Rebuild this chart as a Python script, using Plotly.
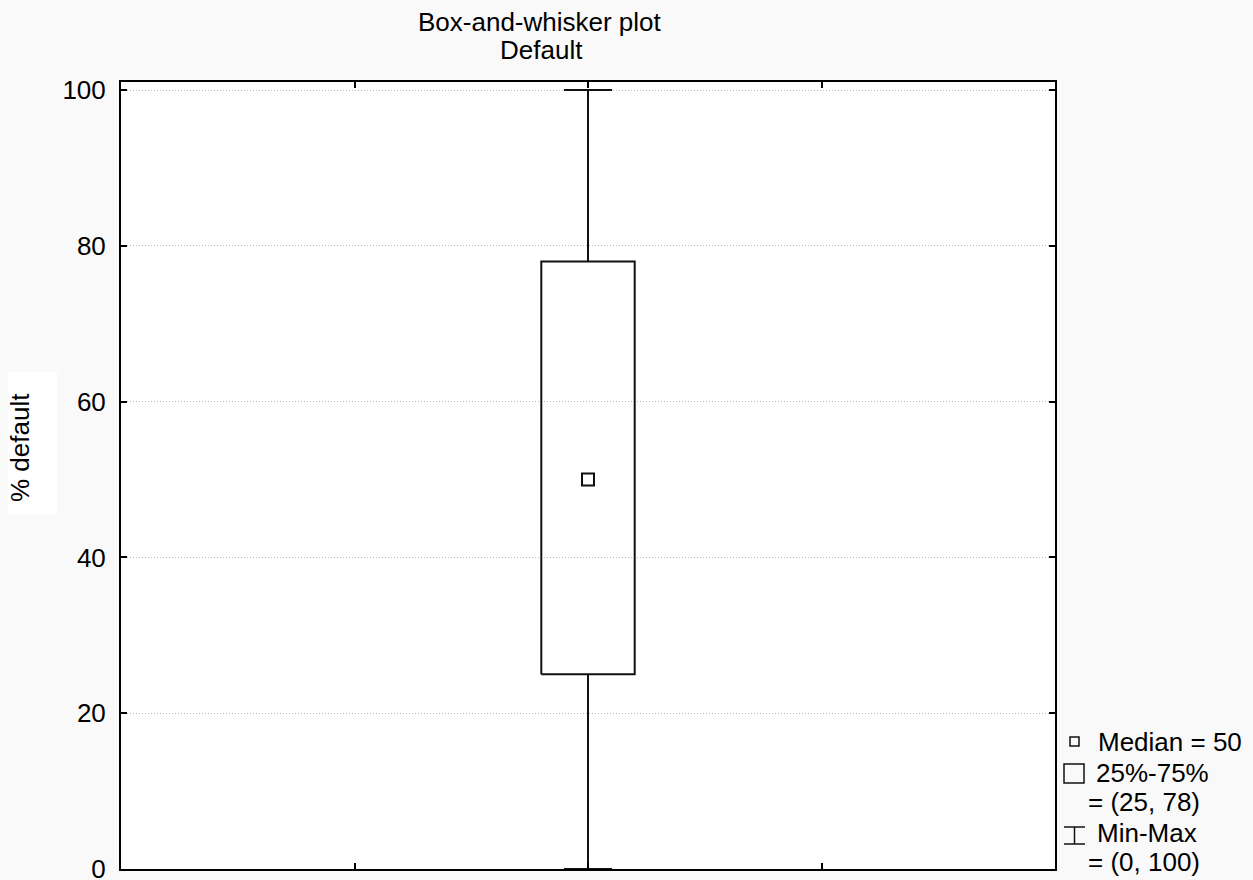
import plotly.graph_objects as go

# Summary statistics for the "Default" variable (% default)
variable = "Default"
stat_min = 0
stat_q1 = 25
stat_median = 50
stat_q3 = 78
stat_max = 100

y_ticks = [0, 20, 40, 60, 80, 100]
x_ticks = [1, 2, 3]

# geometry of the single box on a numeric x axis running 0..4
center = 2.0
box_half = 0.2
cap_half = 0.103

LINE = "#111111"
FONT = "Liberation Sans, Arial, sans-serif"
FS = 26

fig = go.Figure()

# box body (25%-75%)
fig.add_trace(go.Scatter(
    x=[center - box_half, center + box_half, center + box_half, center - box_half, center - box_half],
    y=[stat_q1, stat_q1, stat_q3, stat_q3, stat_q1],
    mode="lines", line=dict(color=LINE, width=2), hoverinfo="skip", showlegend=False))

# whiskers
fig.add_trace(go.Scatter(
    x=[center, center, None, center, center],
    y=[stat_q3, stat_max, None, stat_q1, stat_min],
    mode="lines", line=dict(color=LINE, width=2), hoverinfo="skip", showlegend=False))

# whisker caps
fig.add_trace(go.Scatter(
    x=[center - cap_half, center + cap_half, None, center - cap_half, center + cap_half],
    y=[stat_max, stat_max, None, stat_min, stat_min],
    mode="lines", line=dict(color=LINE, width=2), hoverinfo="skip", showlegend=False))

# median marker
fig.add_trace(go.Scatter(
    x=[center], y=[stat_median], mode="markers",
    marker=dict(symbol="square-open", size=12, color=LINE, line=dict(width=2, color=LINE)),
    hoverinfo="skip", showlegend=False))

# layout
L, R, T, B = 121, 198, 82, 11
W, H = 1253, 880
pw, ph = W - L - R, H - T - B


def px_x(px):
    return (px - L) / pw


def px_y(py):
    return (H - B - py) / ph


axis_common = dict(
    showline=True, linecolor="black", linewidth=2, mirror="ticks", automargin=False,
    ticks="inside", ticklen=6, tickwidth=2, tickcolor="black", zeroline=False,
)

fig.update_layout(
    width=W, height=H,
    margin=dict(l=L, r=R, t=T, b=B, autoexpand=False),
    paper_bgcolor="#f9f9f9", plot_bgcolor="white",
    font=dict(family=FONT, size=FS, color="black"),
    xaxis=dict(range=[0, 4], tickvals=x_ticks, showticklabels=False, showgrid=False, **axis_common),
    yaxis=dict(range=[0, 101.03], tickvals=y_ticks, showgrid=True, gridcolor="#b8b8b8",
               griddash="1px,2px", gridwidth=1, ticklabelstandoff=8, ticklabeloverflow="allow",
               **axis_common),
)


def label(text, px, py, xanchor="left", **kw):
    return dict(text=text, x=px_x(px), y=px_y(py), xref="paper", yref="paper",
                xanchor=xanchor, yanchor="middle", showarrow=False, font=dict(size=FS), **kw)


annotations = [
    label("Box-and-whisker plot", 540, 22, xanchor="center"),
    label(variable, 541, 50, xanchor="center"),
    label("% default", 20, 448, xanchor="center", textangle=-90),
    label(f"Median = {stat_median}", 1096, 742),
    label("25%-75%", 1094, 773),
    label(f"= ({stat_q1}, {stat_q3})", 1086, 802),
    label("Min-Max", 1095, 833),
    label(f"= ({stat_min}, {stat_max})", 1086, 862),
]
fig.update_layout(annotations=annotations)

# white panel behind the y-axis title and legend key symbols
sym = dict(color=LINE, width=1.5)
shapes = [
    dict(type="rect", xref="paper", yref="paper", x0=px_x(8), x1=px_x(57), y0=px_y(515), y1=px_y(372),
         fillcolor="white", line=dict(width=0), layer="below"),
    dict(type="rect", xref="paper", yref="paper", x0=px_x(1070), x1=px_x(1079), y0=px_y(746), y1=px_y(737), line=sym),
    dict(type="rect", xref="paper", yref="paper", x0=px_x(1064), x1=px_x(1084), y0=px_y(783), y1=px_y(764), line=sym),
    dict(type="line", xref="paper", yref="paper", x0=px_x(1064), x1=px_x(1085), y0=px_y(827), y1=px_y(827), line=sym),
    dict(type="line", xref="paper", yref="paper", x0=px_x(1064), x1=px_x(1085), y0=px_y(844), y1=px_y(844), line=sym),
    dict(type="line", xref="paper", yref="paper", x0=px_x(1074.5), x1=px_x(1074.5), y0=px_y(827), y1=px_y(844), line=sym),
]
fig.update_layout(shapes=shapes)

fig.write_html("out.html")
